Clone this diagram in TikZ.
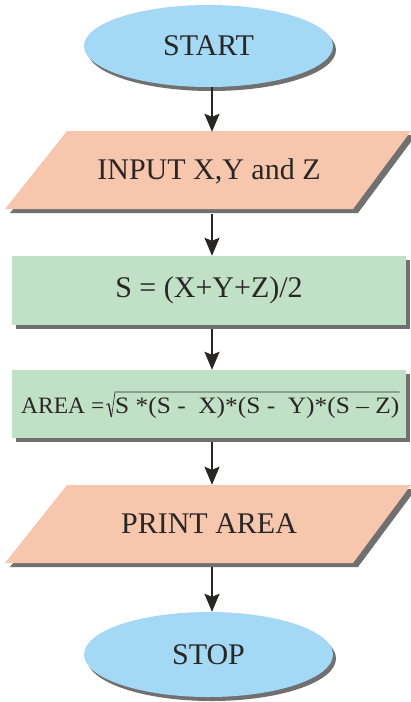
\documentclass[tikz,border=0pt]{standalone}
\usepackage{fontspec}
\setmainfont{Liberation Serif}
\usetikzlibrary{shapes.geometric,shadows,arrows.meta,calc}
\definecolor{eblue}{HTML}{A4D9F5}
\definecolor{peach}{HTML}{F6C6AD}
\definecolor{mint}{HTML}{C1E1C6}
\definecolor{shadowc}{HTML}{707070}
\definecolor{ink}{HTML}{2A2625}
\tikzset{
  termbox/.style={ellipse, minimum width=249pt, minimum height=82pt, inner sep=0pt, fill=eblue,
    drop shadow={shadow xshift=3pt, shadow yshift=-4pt, fill=shadowc, opacity=1},
    text=ink, font=\fontsize{30}{31}\selectfont},
  procbox/.style={rectangle, minimum width=394pt, inner sep=0pt, fill=mint,
    drop shadow={shadow xshift=4pt, shadow yshift=-4pt, fill=shadowc, opacity=1},
    text=ink, font=\fontsize{30}{31}\selectfont},
  iotext/.style={rectangle, minimum height=78pt, minimum width=300pt, inner sep=0pt,
    text=ink, font=\fontsize{30}{31}\selectfont},
  smalltext/.style={inner sep=0pt, text=ink, font=\fontsize{23.5}{24}\selectfont},
  arr/.style={draw=ink, line width=2.2pt, -{Stealth[length=18pt, width=15pt, inset=3pt]}}
}
\begin{document}
\begin{tikzpicture}[x=1pt,y=-1pt]
\useasboundingbox (0,0) rectangle (411,702);
\coordinate (ax) at (212,0);
% START
\node[termbox] (start) at (208.5,46) {START};
% INPUT parallelogram
\fill[shadowc, shift={(5,4)}] (67,131) -- (411,131) -- (353,209) -- (5,209) -- cycle;
\fill[peach] (67,131) -- (411,131) -- (353,209) -- (5,209) -- cycle;
\node[iotext] (in) at (209,171) {INPUT X,Y and Z};
% S box
\node[procbox, minimum height=69pt] (s1) at (209,290.5) {S = (X+Y+Z)/2};
% AREA box
\node[procbox, minimum height=68pt] (s2) at (209,404) {};
\node[smalltext, anchor=base west] (areaL) at (21,413) {AREA =};
\node[smalltext, anchor=base west] (areaR) at (115,413) {\scalebox{1.08}[1]{S *(S -\ \ X)*(S -\ \ Y)*(S -- Z)}};
\draw[ink, line width=0.6pt] ($(areaR.base west)+(-9,-8)$) -- ++(2.5,-1.5);
\draw[ink, line width=1.4pt] ($(areaR.base west)+(-6.5,-9.5)$) -- ($(areaR.base west)+(-3.5,4)$);
\draw[ink, line width=0.6pt, line join=miter] ($(areaR.base west)+(-3.5,4)$) -- ($(areaR.base west)+(0,-21)$) -- ($(areaR.base east)+(0,-21)$);
% PRINT parallelogram
\fill[shadowc, shift={(5,4)}] (67,485) -- (411,485) -- (353,563) -- (5,563) -- cycle;
\fill[peach] (67,485) -- (411,485) -- (353,563) -- (5,563) -- cycle;
\node[iotext] (out) at (209,524) {PRINT AREA};
% STOP
\node[termbox, minimum height=85pt] (stop) at (208.5,654.5) {STOP};
% arrows
\draw[arr] (start.south -| ax) -- (in.north -| ax);
\draw[arr] ($(in.south -| ax)+(0,4)$) -- (s1.north -| ax);
\draw[arr] ($(s1.south -| ax)+(0,4)$) -- (s2.north -| ax);
\draw[arr] ($(s2.south -| ax)+(0,4)$) -- (out.north -| ax);
\draw[arr] ($(out.south -| ax)+(0,4)$) -- (stop.north -| ax);
\end{tikzpicture}
\end{document}
